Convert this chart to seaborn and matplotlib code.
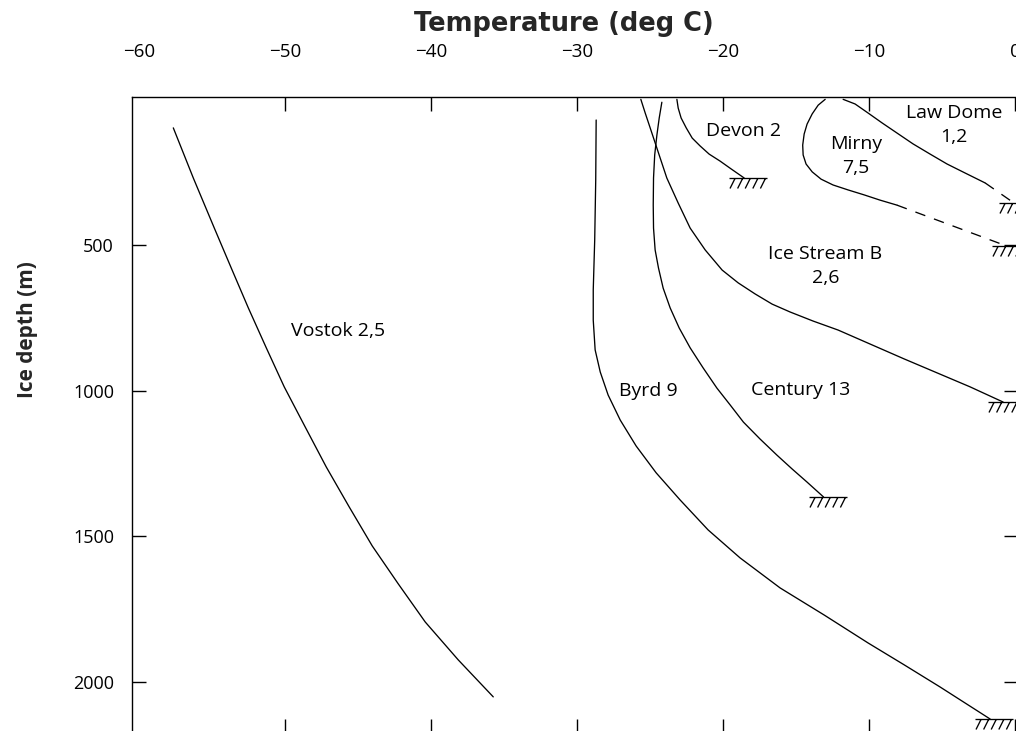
import matplotlib
matplotlib.use("Agg")
import matplotlib.pyplot as plt
from matplotlib.path import Path
import seaborn as sns

# ---------------- data (temperature deg C, depth m) ----------------
vostok_temp = [-57.67, -56.30, -54.86, -53.70, -52.53, -51.30, -50.07, -48.63, -47.19,
               -45.62, -44.04, -42.26, -40.41, -38.15, -35.75]
vostok_depth = [98, 270, 442, 579, 716, 853, 987, 1125, 1262, 1399, 1533, 1663, 1794, 1924, 2051]

byrd_temp = [-28.70, -28.73, -28.80, -28.90, -28.90, -28.77, -28.42, -27.88, -27.05, -25.96,
             -24.59, -22.95, -21.03, -18.84, -16.10, -13.08, -10.07, -7.60, -5.14, -1.71]
byrd_depth = [71, 277, 483, 654, 758, 860, 936, 1015, 1101, 1190,
              1282, 1375, 1478, 1574, 1677, 1770, 1866, 1941, 2017, 2127]

century_temp = [-24.20, -24.38, -24.54, -24.69, -24.77, -24.79, -24.77, -24.66, -24.43, -24.11,
                -23.63, -23.01, -22.26, -21.37, -20.43, -19.52, -18.61, -17.47, -16.32, -15.27,
                -14.27, -13.12]
century_depth = [10, 64, 123, 191, 270, 363, 442, 517, 579, 648,
                 716, 785, 853, 922, 991, 1049, 1108, 1166, 1221, 1269, 1313, 1365]

icestream_temp = [-25.64, -25.34, -25.00, -24.45, -23.86, -23.08, -22.26, -21.23, -20.07, -18.97,
                  -17.81, -16.64, -15.41, -13.84, -12.12, -9.93, -7.60, -5.34, -3.08, -0.82]
icestream_depth = [0, 47, 98, 181, 270, 356, 442, 517, 586, 630,
                   668, 703, 730, 761, 792, 840, 891, 939, 987, 1039]

devon_temp = [-23.17, -23.08, -22.88, -22.53, -22.12, -21.58, -20.96, -20.21, -19.45, -18.56]
devon_depth = [0, 30, 64, 98, 133, 160, 188, 212, 239, 270]

mirny_temp = [-13.01, -13.49, -13.90, -14.25, -14.45, -14.55, -14.52, -14.32, -13.90, -13.29,
              -12.47, -11.44, -10.34, -9.25, -8.10]
mirny_depth = [0, 20, 50, 85, 119, 157, 191, 222, 249, 274, 294, 311, 328, 346, 363]
mirny_ext_temp = [-8.10, -0.55]
mirny_ext_depth = [363, 504]

lawdome_temp = [-11.78, -10.96, -10.07, -9.11, -8.08, -6.99, -5.82, -4.66, -3.42, -2.05]
lawdome_depth = [0, 16, 47, 81, 116, 153, 188, 222, 253, 287]
lawdome_ext_temp = [-2.05, -0.07]
lawdome_ext_depth = [287, 356]

x_ticks = [-60, -50, -40, -30, -20, -10, 0]
y_ticks = [500, 1000, 1500, 2000]

labels = ["Vostok 2,5", "Byrd 9", "Century 13", "Ice Stream B\n2,6", "Devon 2", "Mirny\n7,5", "Law Dome\n1,2"]
label_temp = [-46.4, -25.1, -14.7, -13.0, -18.6, -10.9, -4.2]
label_depth = [795, 1001, 997, 572, 109, 195, 88]

# ---------------- style ----------------
sns.set_theme(style="white")
plt.rcParams['font.family'] = ['Open Sans', 'DejaVu Sans']

fig = plt.figure(figsize=(10.16, 7.31), dpi=100)
ax = fig.add_axes([132 / 1016, -2 / 731, 886 / 1016, 636 / 731])

lw = 0.95
solid = [(vostok_temp, vostok_depth), (byrd_temp, byrd_depth), (century_temp, century_depth),
         (icestream_temp, icestream_depth), (devon_temp, devon_depth),
         (mirny_temp, mirny_depth), (lawdome_temp, lawdome_depth)]
for t, d in solid:
    sns.lineplot(x=t, y=d, sort=False, estimator=None, color='black', lw=lw, ax=ax)

for t, d in [(mirny_ext_temp, mirny_ext_depth), (lawdome_ext_temp, lawdome_ext_depth)]:
    sns.lineplot(x=t, y=d, sort=False, estimator=None, color='black', lw=lw,
                 linestyle=(0, (8, 7)), ax=ax)

# borehole-bottom hatch symbol (pixel units relative to end point, y up)
verts = [(-15, 0), (23, 0)]
codes = [Path.MOVETO, Path.LINETO]
for i in range(5):
    top = -9.5 + 7.6 * i
    verts += [(top, 0), (top - 5, -10)]
    codes += [Path.MOVETO, Path.LINETO]
hatch = Path(verts, codes)
ms = 23 * 2 * 0.72

ends = [(devon_temp[-1], devon_depth[-1]), (century_temp[-1], century_depth[-1]),
        (icestream_temp[-1], icestream_depth[-1]), (byrd_temp[-1], byrd_depth[-1]),
        (mirny_ext_temp[-1], mirny_ext_depth[-1]), (lawdome_ext_temp[-1], lawdome_ext_depth[-1])]
for ex, ey in ends:
    ax.plot([ex], [ey], marker=hatch, ms=ms, mfc='none', mec='black', mew=lw, ls='none',
            clip_on=False)

for s, x, y in zip(labels, label_temp, label_depth):
    ax.text(x, y, s, ha='center', va='center', fontsize=14, linespacing=1.45, color='black')

ax.set_xlim(-60.5, 0.2)
ax.set_ylim(2175, -8)
ax.set_xticks(x_ticks)
ax.set_yticks(y_ticks)

ax.tick_params(axis='x', top=True, bottom=True, labeltop=True, labelbottom=False,
               direction='in', length=10, width=1.0, pad=26, labelsize=13.5, colors='black')
ax.tick_params(axis='y', left=True, right=True, labelleft=True, labelright=False,
               direction='in', length=10, width=1.0, pad=13, labelsize=13, colors='black')
first = ax.xaxis.get_major_ticks()[0]
first.tick1line.set_visible(False)
first.tick2line.set_visible(False)

for sp in ax.spines.values():
    sp.set_color('black')
    sp.set_linewidth(1.0)

ax.xaxis.set_label_position('top')
ax.set_xlabel('Temperature (deg C)', fontsize=18.5, fontweight='bold', family=['DejaVu Sans'])
ax.xaxis.set_label_coords((564 - 132) / 886, 1 + (97 - 31) / 636)
ax.set_ylabel('Ice depth (m)', fontsize=15, fontweight='bold')
ax.yaxis.set_label_coords((38 - 132) / 886, (733 - 330) / 636)

fig.savefig('out.png', dpi=100)
